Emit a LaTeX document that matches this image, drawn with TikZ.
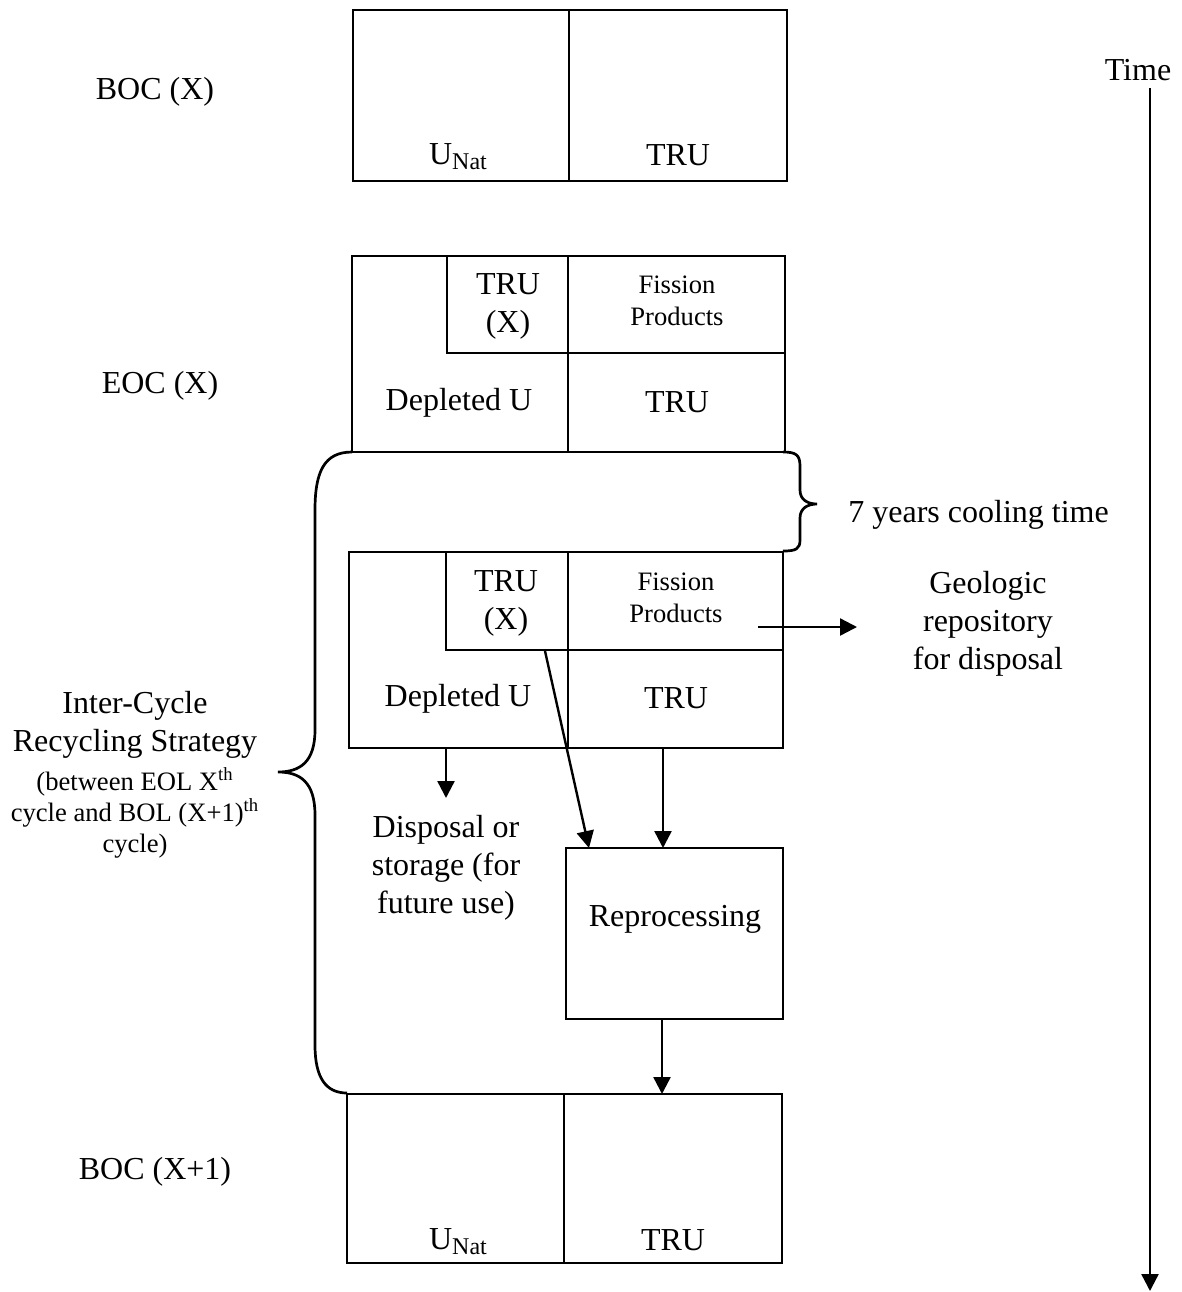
\documentclass[tikz,border=0pt]{standalone}
\usepackage{fontspec}
\setmainfont{Liberation Serif}
\usetikzlibrary{arrows.meta,positioning}
\begin{document}
\begin{tikzpicture}[x=0.5pt,y=-0.5pt,
  box/.style = {line width=1.35pt},
  txt/.style = {font=\fontsize{16}{19}\selectfont, align=center, inner sep=0pt},
  sml/.style = {font=\fontsize{13.3}{16}\selectfont, align=center, inner sep=0pt},
  arr/.style = {line width=1.2pt, -{Triangle[length=8.5pt,width=8.5pt]}}]
\useasboundingbox (0,0) rectangle (1182,1292);
\newcommand{\unat}{U\raisebox{-2.5pt}{\fontsize{12}{12}\selectfont Nat}}

% beginning of cycle X
\draw[box] (353,10) rectangle (787,181) (569,10) -- (569,181);
\node[txt] (u1) at (458,157) {\unat};
\node[txt] (t1) at (678,155) {TRU};

% end of cycle X
\draw[box] (352,256) rectangle (785,452) (568,256) -- (568,452);
\draw[box] (447,256) -- (447,353) -- (785,353);
\node[txt] (tx2) at (508,306) {TRU\\(X)};
\node[sml] (fp2) at (677,301) {Fission\\Products};
\node[txt] (du2) at (459,403) {Depleted U};
\node[txt] (t2) at (677,402) {TRU};

% after cooling
\draw[box] (349,552) rectangle (783,748) (568,552) -- (568,748);
\draw[box] (446,552) -- (446,650) -- (783,650);
\node[txt] (tx3) at (506,603) {TRU\\(X)};
\node[sml] (fp3) at (676,598) {Fission\\Products};
\node[txt] (du3) at (458,699) {Depleted U};
\node[txt] (t3) at (676,698) {TRU};

% beginning of cycle X+1
\draw[box] (347,1094) rectangle (782,1263) (564,1094) -- (564,1263);
\node[txt] (u4) at (458,1242) {\unat};
\node[txt] (t4) at (673,1240) {TRU};

% reprocessing
\node[box, draw, minimum width=108.5pt, minimum height=85.5pt] (rep) at (674.5,933.5) {};
\node[txt] at (675,919) {Reprocessing};

% cooling brace
\draw[box] (783,452) .. controls (796,452) and (800,455) .. (800,466) -- (800,490)
  .. controls (800,500) and (808,504) .. (817,504)
  .. controls (808,504) and (800,508) .. (800,518) -- (800,540)
  .. controls (800,549) and (796,551) .. (783,551);
\node[txt, anchor=west] (cool) at (848,515) {7 years cooling time};

% inter-cycle brace
\draw[box] (352,452) .. controls (324,452) and (315,472) .. (315,510) -- (315,730)
  .. controls (315,762) and (300,772) .. (278,772)
  .. controls (300,772) and (315,782) .. (315,815) -- (315,1045)
  .. controls (315,1078) and (326,1093) .. (347,1093);
\node[txt] (ic) at (135,725) {Inter-Cycle\\Recycling Strategy};
\node[sml, below=4pt of ic, font=\fontsize{13.3}{15.5}\selectfont] (icx)
  {(between EOL X\textsuperscript{th}\\cycle and BOL (X+1)\textsuperscript{th}\\cycle)};

% side labels
\node[txt] (boc1) at (155,92) {BOC (X)};
\node[txt] (eoc) at (160,386) {EOC (X)};
\node[txt] (boc2) at (155,1172) {BOC (X+1)};
\node[txt] (geo) at (988,624) {Geologic\\repository\\for disposal};
\node[txt] (disp) at (446,868) {Disposal or\\storage (for\\future use)};

% flows
\coordinate (fpa) at (758,627);
\coordinate (fpb) at (857,627);
\coordinate (dua) at (446,748);
\coordinate (dub) at (446,798);
\coordinate (txa) at (545,651);
\coordinate (txb) at (589,848);
\coordinate (tra) at (663,748);
\coordinate (trb) at (663,848);
\coordinate (rpa) at (662,1019);
\coordinate (rpb) at (662,1094);
\draw[arr] (fpa) -- (fpb);
\draw[arr] (dua) -- (dub);
\draw[arr] (txa) -- (txb);
\draw[arr] (tra) -- (trb);
\draw[arr] (rpa) -- (rpb);

% time axis
\node[txt] (time) at (1138,70) {Time};
\coordinate (ta) at (1150,88);
\coordinate (tb) at (1150,1291);
\draw[arr] (ta) -- (tb);
\end{tikzpicture}
\end{document}
